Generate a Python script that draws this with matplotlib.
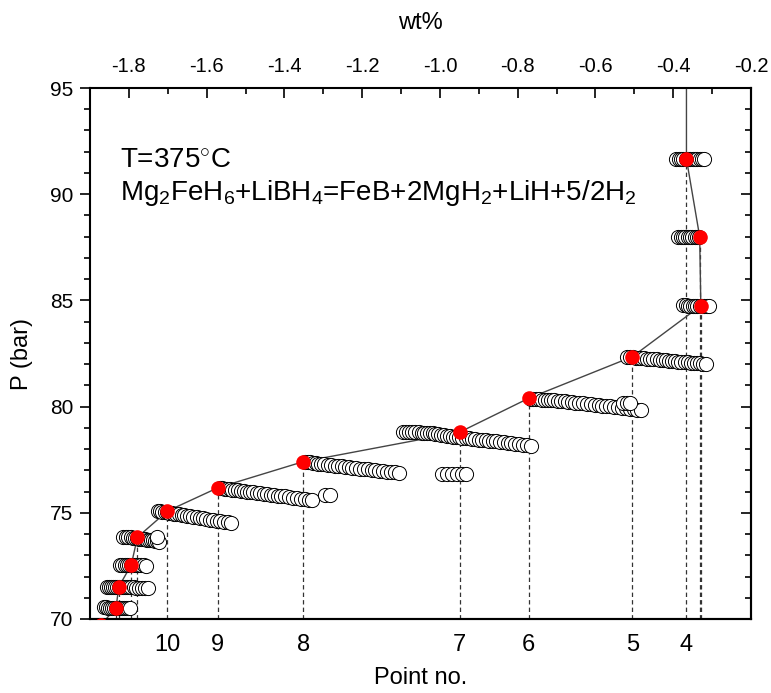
import matplotlib
matplotlib.use("Agg")
import matplotlib.pyplot as plt
from matplotlib.ticker import MultipleLocator, FixedLocator

plt.rcParams['font.family'] = ['Liberation Sans', 'DejaVu Sans']
plt.rcParams['mathtext.fontset'] = 'custom'
plt.rcParams['mathtext.rm'] = 'Liberation Sans'
plt.rcParams['mathtext.it'] = 'Liberation Sans:italic'
plt.rcParams['mathtext.bf'] = 'Liberation Sans:bold'

# ---------------- data (wt% , P bar) ----------------
A_wt = [-1.865, -1.859, -1.853, -1.848, -1.843, -1.838, -1.833, -1.828, -1.823, -1.818, -1.813, -1.808, -1.803, -1.798]
A_p = [70.55, 70.55, 70.54, 70.54, 70.53, 70.53, 70.53, 70.52, 70.52, 70.52, 70.51, 70.51, 70.50, 70.50]

B_wt = [-1.857, -1.851, -1.846, -1.841, -1.836, -1.831, -1.826, -1.821, -1.816, -1.811, -1.806,
        -1.800, -1.794, -1.788, -1.781, -1.774, -1.766, -1.758, -1.751]
B_p = [71.53, 71.53, 71.52, 71.52, 71.52, 71.51, 71.51, 71.51, 71.50, 71.50, 71.50,
       71.49, 71.49, 71.49, 71.48, 71.48, 71.47, 71.47, 71.47]

C_wt = [-1.823, -1.817, -1.811, -1.805, -1.799, -1.794, -1.789, -1.784, -1.779, -1.774, -1.768, -1.762, -1.755]
C_p = [72.55, 72.55, 72.55, 72.54, 72.54, 72.54, 72.53, 72.53, 72.53, 72.52, 72.52, 72.52, 72.51]

D_wt = [-1.815, -1.808, -1.801, -1.795, -1.789, -1.784, -1.779, -1.774, -1.769, -1.764, -1.759,
        -1.754, -1.749, -1.744, -1.739, -1.733, -1.728, -1.722, -1.728]
D_p = [73.86, 73.86, 73.85, 73.84, 73.83, 73.82, 73.80, 73.78, 73.77, 73.76, 73.75,
       73.74, 73.73, 73.72, 73.70, 73.68, 73.66, 73.64, 73.85]

E_wt = [-1.726, -1.720, -1.714, -1.708, -1.702, -1.696, -1.690, -1.684, -1.678, -1.671, -1.664,
        -1.657, -1.650, -1.642, -1.634, -1.626, -1.618, -1.610, -1.601, -1.592, -1.583, -1.574,
        -1.565, -1.556, -1.546, -1.537]
E_p = [75.08, 75.07, 75.06, 75.04, 75.02, 75.00, 74.98, 74.96, 74.94, 74.92, 74.90,
       74.88, 74.86, 74.84, 74.81, 74.79, 74.76, 74.74, 74.71, 74.68, 74.66, 74.63,
       74.61, 74.58, 74.56, 74.53]

F_wt = [-1.566, -1.560, -1.554, -1.548, -1.541, -1.534, -1.527, -1.520, -1.512, -1.504, -1.496,
        -1.488, -1.480, -1.471, -1.462, -1.453, -1.444, -1.435, -1.426, -1.417, -1.408, -1.398,
        -1.388, -1.378, -1.368, -1.358, -1.348, -1.338, -1.328, -1.296, -1.282]
F_p = [76.17, 76.15, 76.14, 76.12, 76.11, 76.09, 76.07, 76.05, 76.03, 76.01, 75.99,
       75.97, 75.96, 75.94, 75.92, 75.90, 75.88, 75.86, 75.84, 75.81, 75.79, 75.77,
       75.74, 75.72, 75.69, 75.67, 75.65, 75.62, 75.60, 75.84, 75.84]

G_wt = [-1.346, -1.340, -1.334, -1.327, -1.320, -1.313, -1.305, -1.297, -1.289, -1.280, -1.271,
        -1.262, -1.253, -1.244, -1.235, -1.226, -1.216, -1.206, -1.196, -1.186, -1.176, -1.166,
        -1.156, -1.146, -1.136, -1.126, -1.116, -1.106]
G_p = [77.40, 77.39, 77.37, 77.35, 77.34, 77.32, 77.30, 77.28, 77.26, 77.24, 77.22,
       77.20, 77.18, 77.16, 77.14, 77.12, 77.10, 77.08, 77.06, 77.04, 77.02, 77.00,
       76.98, 76.96, 76.94, 76.92, 76.90, 76.87]

H_wt = [-1.095, -1.087, -1.079, -1.071, -1.063, -1.055, -1.047, -1.040, -1.033, -1.026, -1.019,
        -1.012, -1.005, -0.998, -0.990, -0.982, -0.974, -0.966, -0.958, -0.950, -0.942, -0.934,
        -0.926, -0.918, -0.909, -0.900, -0.891, -0.882, -0.873, -0.864, -0.855, -0.846, -0.836,
        -0.826, -0.816, -0.806, -0.796, -0.786, -0.776, -0.766]
H_p = [78.82, 78.82, 78.81, 78.81, 78.80, 78.79, 78.78, 78.77, 78.76, 78.75, 78.74,
       78.72, 78.70, 78.68, 78.65, 78.63, 78.61, 78.59, 78.57, 78.56, 78.54, 78.52,
       78.50, 78.48, 78.47, 78.45, 78.43, 78.41, 78.40, 78.38, 78.36, 78.34, 78.32,
       78.30, 78.28, 78.26, 78.24, 78.21, 78.18, 78.15]

H2_wt = [-0.995, -0.982, -0.968, -0.956, -0.944, -0.934]
H2_p = [76.83, 76.83, 76.83, 76.83, 76.83, 76.83]

I_wt = [-0.767, -0.760, -0.753, -0.746, -0.738, -0.730, -0.722, -0.714, -0.706, -0.697, -0.688,
        -0.679, -0.670, -0.661, -0.652, -0.642, -0.632, -0.622, -0.612, -0.602, -0.592, -0.582,
        -0.572, -0.562, -0.552, -0.542, -0.532, -0.522, -0.512, -0.502, -0.492, -0.483,
        -0.530, -0.520, -0.510]
I_p = [80.38, 80.37, 80.36, 80.34, 80.33, 80.32, 80.31, 80.30, 80.29, 80.28, 80.27,
       80.25, 80.23, 80.21, 80.19, 80.17, 80.15, 80.13, 80.11, 80.09, 80.07, 80.05,
       80.03, 80.01, 79.99, 79.97, 79.95, 79.93, 79.91, 79.89, 79.86, 79.84,
       80.16, 80.16, 80.15]

J_wt = [-0.518, -0.511, -0.503, -0.496, -0.489, -0.482, -0.475, -0.467, -0.459, -0.451, -0.443,
        -0.435, -0.427, -0.419, -0.411, -0.403, -0.395, -0.387, -0.379, -0.371, -0.363, -0.355,
        -0.347, -0.339, -0.331, -0.323, -0.315]
J_p = [82.35, 82.34, 82.33, 82.31, 82.30, 82.28, 82.27, 82.26, 82.24, 82.23, 82.22,
       82.20, 82.19, 82.18, 82.16, 82.15, 82.14, 82.12, 82.11, 82.10, 82.08, 82.07,
       82.06, 82.04, 82.03, 82.01, 82.00]

K_wt = [-0.374, -0.368, -0.362, -0.356, -0.350, -0.344, -0.338, -0.332, -0.326, -0.320, -0.314, -0.308]
K_p = [84.76, 84.76, 84.75, 84.75, 84.75, 84.75, 84.75, 84.75, 84.74, 84.74, 84.74, 84.74]

L_wt = [-0.387, -0.381, -0.375, -0.369, -0.363, -0.357, -0.351, -0.345, -0.339, -0.334]
L_p = [88.00, 88.00, 88.00, 88.00, 88.00, 88.00, 88.00, 88.00, 88.00, 88.00]

M_wt = [-0.392, -0.386, -0.380, -0.374, -0.368, -0.362, -0.356, -0.350, -0.344, -0.338, -0.332, -0.326, -0.320]
M_p = [91.66, 91.66, 91.66, 91.66, 91.66, 91.66, 91.66, 91.66, 91.66, 91.66, 91.66, 91.66, 91.66]

# equilibrium points (red)
red_wt = [-1.872, -1.833, -1.826, -1.794, -1.778, -1.701, -1.571, -1.351, -0.949, -0.772, -0.505, -0.329, -0.332, -0.366]
red_p = [69.72, 70.53, 71.52, 72.54, 73.85, 75.08, 76.18, 77.41, 78.80, 80.39, 82.35, 84.75, 88.00, 91.66]

# line continues upward from the last point
line_end_wt = -0.366
line_end_p = 96.0

# bottom axis: point numbers
point_labels = ['10', '9', '8', '7', '6', '5', '4']
point_wt = [-1.701, -1.571, -1.351, -0.949, -0.772, -0.505, -0.366]

open_sets = [(A_wt, A_p), (B_wt, B_p), (C_wt, C_p), (D_wt, D_p), (E_wt, E_p), (F_wt, F_p),
             (G_wt, G_p), (H_wt, H_p), (H2_wt, H2_p), (I_wt, I_p), (J_wt, J_p),
             (K_wt, K_p), (L_wt, L_p), (M_wt, M_p)]

# ---------------- figure ----------------
fig = plt.figure(figsize=(7.71, 6.93), dpi=100)
ax = fig.add_axes([90 / 771, 74 / 693, 661 / 771, 531 / 693])

ax.set_xlim(-1.9, -0.2)
ax.set_ylim(70, 95)

# dashed drop lines
for w, p in zip(red_wt[1:], red_p[1:]):
    ax.plot([w, w], [70, p], ls=(0, (3.5, 2.5)), color='#333333', lw=0.9, zorder=1)

# connecting line
ax.plot(red_wt + [line_end_wt], red_p + [line_end_p], color='#444444', lw=1.0, zorder=2)

# open circles
for wts, ps in open_sets:
    ax.plot(wts, ps, ls='none', marker='o', ms=10.2, mfc='white', mec='black', mew=0.7, zorder=3)

# red points
ax.plot(red_wt, red_p, ls='none', marker='o', ms=10.5, mfc='red', mec='red', mew=0, zorder=4)

# axes styling
for s in ax.spines.values():
    s.set_linewidth(1.5)

ax.xaxis.set_major_locator(MultipleLocator(0.2))
ax.xaxis.set_minor_locator(MultipleLocator(0.1))
ax.xaxis.set_major_formatter(plt.FuncFormatter(lambda v, pos: f"{v:.1f}"))
ax.tick_params(axis='x', which='both', top=True, bottom=False, labeltop=True, labelbottom=False,
               direction='in', labelsize=14.5, pad=9, width=1.2)
ax.tick_params(axis='x', which='major', length=7)
ax.tick_params(axis='x', which='minor', length=4)
ax.xaxis.set_label_position('top')
ax.set_xlabel('wt%', fontsize=17, labelpad=20)

ax.yaxis.set_major_locator(MultipleLocator(5))
ax.yaxis.set_minor_locator(MultipleLocator(1))
ax.tick_params(axis='y', which='both', left=True, right=False, direction='out',
               labelsize=15, pad=5, width=1.2)
ax.tick_params(axis='y', which='major', length=7)
ax.tick_params(axis='y', which='minor', length=4)
ax.set_ylabel('P (bar)', fontsize=17, labelpad=12)

ry = ax.secondary_yaxis('right')
ry.yaxis.set_major_locator(MultipleLocator(5))
ry.yaxis.set_minor_locator(MultipleLocator(1))
ry.tick_params(axis='y', which='both', direction='in', labelright=False, width=1.2)
ry.tick_params(axis='y', which='major', length=7)
ry.tick_params(axis='y', which='minor', length=4)
ry.spines['right'].set_linewidth(1.5)

bx = ax.secondary_xaxis('bottom')
bx.xaxis.set_major_locator(FixedLocator(point_wt))
bx.set_xticklabels(point_labels)
bx.xaxis.set_minor_locator(FixedLocator([]))
bx.tick_params(axis='x', which='both', length=0, labelsize=17, pad=11)
bx.spines['bottom'].set_linewidth(1.5)
bx.set_xlabel('Point no.', fontsize=17, labelpad=8)

# annotations
ax.text(0.045, 0.850, r'T=375$^{\circ}$C', transform=ax.transAxes, fontsize=20, va='baseline')
ax.text(0.045, 0.790, r'Mg$_2$FeH$_6$+LiBH$_4$=FeB+2MgH$_2$+LiH+5/2H$_2$', transform=ax.transAxes,
        fontsize=20, va='baseline')

fig.savefig('out.png', dpi=100)
